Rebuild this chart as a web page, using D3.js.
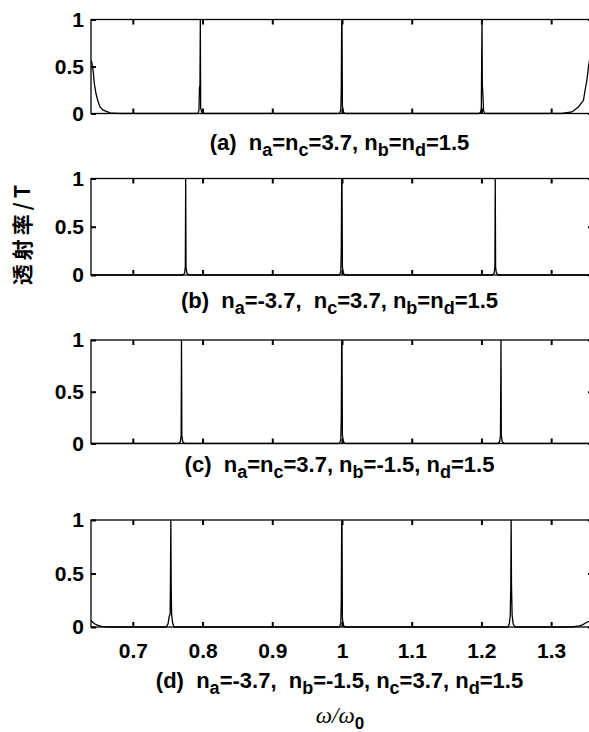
<!DOCTYPE html>
<html>
<head>
<meta charset="utf-8">
<script src="https://cdn.jsdelivr.net/npm/d3@7"></script>
<style>
  body { margin: 0; background: #fff; }
  text { font-family: "Liberation Sans", Arial, sans-serif; font-weight: bold; fill: #000; }
  .tick line { stroke: #000; stroke-width: 2; }
  .domain { display: none; }
</style>
</head>
<body>
<div id="chart"></div>
<script>
const svgWidth = 589
const svgHeight = 732

// axis ticks
const xTicks = [0.7, 0.8, 0.9, 1.0, 1.1, 1.2, 1.3]
const xTickLabels = ["0.7", "0.8", "0.9", "1", "1.1", "1.2", "1.3"]
const yTicks = [0, 0.5, 1]
const yTickLabels = ["0", "0.5", "1"]

// panel captions, "_x" = subscript x
const captions = [
  "(a)  n_a=n_c=3.7, n_b=n_d=1.5",
  "(b)  n_a=-3.7,  n_c=3.7, n_b=n_d=1.5",
  "(c)  n_a=n_c=3.7, n_b=-1.5, n_d=1.5",
  "(d)  n_a=-3.7,  n_b=-1.5, n_c=3.7, n_d=1.5"
]

// transmission curves [omega/omega0, T]
const curveA = [
  [0.640, 0.56], [0.641, 0.55], [0.6433, 0.44], [0.6447, 0.32], [0.6472, 0.21], [0.6496, 0.14],
  [0.6529, 0.07], [0.6576, 0.035], [0.6673, 0.007], [0.680, 0],
  [0.793, 0], [0.7948, 0.03], [0.7956, 0.28], [0.7963, 0.30], [0.7968, 1.0], [0.7973, 0.06], [0.7985, 0.02], [0.800, 0],
  [0.996, 0], [0.9982, 0.03], [0.9990, 0.25], [0.9995, 0.95], [1.0000, 1.0], [1.0006, 0.08], [1.0018, 0.02], [1.004, 0],
  [1.197, 0], [1.1990, 0.02], [1.1998, 0.06], [1.2008, 1.0], [1.2013, 0.30], [1.2018, 0.25], [1.2030, 0.03], [1.205, 0],
  [1.315, 0], [1.3297, 0.017], [1.3391, 0.07], [1.3463, 0.14], [1.3487, 0.25], [1.3512, 0.35], [1.3535, 0.50],
  [1.356, 0.60], [1.360, 0.68]
]

const curveB = [
  [0.640, 0], [0.772, 0], [0.7742, 0.02], [0.7753, 0.08], [0.7758, 1.0], [0.7763, 0.08], [0.7775, 0.02], [0.780, 0],
  [0.996, 0], [0.9982, 0.03], [0.9990, 0.25], [0.9995, 0.95], [1.0000, 1.0], [1.0006, 0.08], [1.0018, 0.02], [1.004, 0],
  [1.216, 0], [1.2182, 0.02], [1.2193, 0.08], [1.2198, 1.0], [1.2203, 0.08], [1.2215, 0.02], [1.224, 0],
  [1.360, 0]
]

const curveC = [
  [0.640, 0], [0.766, 0], [0.7682, 0.02], [0.7693, 0.08], [0.7698, 1.0], [0.7703, 0.08], [0.7715, 0.02], [0.774, 0],
  [0.996, 0], [0.9982, 0.03], [0.9990, 0.25], [0.9995, 0.95], [1.0000, 1.0], [1.0006, 0.08], [1.0018, 0.02], [1.004, 0],
  [1.224, 0], [1.2262, 0.02], [1.2273, 0.08], [1.2280, 1.0], [1.2285, 0.08], [1.2297, 0.02], [1.232, 0],
  [1.360, 0]
]

const curveD = [
  [0.640, 0.06], [0.6425, 0.045], [0.645, 0.03], [0.650, 0.015], [0.655, 0.005], [0.665, 0],
  [0.748, 0], [0.7505, 0.03], [0.7522, 0.10], [0.7535, 0.12], [0.7539, 0.39], [0.7545, 1.0],
  [0.7550, 0.39], [0.7556, 0.12], [0.7570, 0.04], [0.759, 0],
  [0.996, 0], [0.9982, 0.03], [0.9990, 0.25], [0.9995, 0.95], [1.0000, 1.0], [1.0006, 0.08], [1.0018, 0.02], [1.004, 0],
  [1.238, 0], [1.2400, 0.03], [1.2413, 0.11], [1.2421, 0.39], [1.2426, 1.0], [1.2431, 0.39], [1.2440, 0.11],
  [1.2455, 0.03], [1.248, 0],
  [1.330, 0], [1.340, 0.01], [1.345, 0.02], [1.350, 0.04], [1.3535, 0.05], [1.360, 0.07]
]

const curves = [curveA, curveB, curveC, curveD]

// layout
const plotLeft = 91
const plotRight = 593
const panelTop = [19.5, 178.5, 340, 520]
const panelBottom = [113.5, 275, 443.5, 627]
const captionY = [150, 308, 472, 688]

let svg = d3.select("#chart")
  .append("svg")
  .attr("width", svgWidth)
  .attr("height", svgHeight)

let x = d3.scaleLinear()
  .domain([0.64, 1.36])
  .range([plotLeft, plotRight])

curves.forEach((curve, i) => {
  let y = d3.scaleLinear()
    .domain([0, 1])
    .range([panelBottom[i], panelTop[i]])

  let g = svg.append("g")

  g.append("clipPath")
    .attr("id", `clip${i}`)
    .append("rect")
    .attr("x", plotLeft)
    .attr("y", panelTop[i] - 1)
    .attr("width", plotRight - plotLeft)
    .attr("height", panelBottom[i] - panelTop[i] + 2)

  let line = d3.line()
    .x(d => x(d[0]))
    .y(d => y(d[1]))

  g.append("path")
    .datum(curve)
    .attr("clip-path", `url(#clip${i})`)
    .attr("d", line)
    .attr("fill", "none")
    .attr("stroke", "#000")
    .attr("stroke-width", 1.3)

  // bottom ticks (labels only on last panel)
  let bottomAxis = d3.axisBottom(x)
    .tickValues(xTicks)
    .tickSizeInner(-5)
    .tickSizeOuter(0)
    .tickPadding(16)
    .tickFormat((d, k) => i === 3 ? xTickLabels[k] : "")
  g.append("g")
    .attr("transform", `translate(0, ${panelBottom[i]})`)
    .call(bottomAxis)

  g.append("g")
    .attr("transform", `translate(0, ${panelTop[i]})`)
    .call(d3.axisTop(x).tickValues(xTicks).tickSizeInner(-5).tickSizeOuter(0).tickFormat(""))

  let leftAxis = d3.axisLeft(y)
    .tickValues(yTicks)
    .tickSizeInner(-5)
    .tickSizeOuter(0)
    .tickPadding(7)
    .tickFormat((d, k) => yTickLabels[k])
  g.append("g")
    .attr("transform", `translate(${plotLeft}, 0)`)
    .call(leftAxis)

  g.append("g")
    .attr("transform", `translate(${plotRight}, 0)`)
    .call(d3.axisRight(y).tickValues(yTicks).tickSizeInner(-5).tickSizeOuter(0).tickFormat(""))

  g.selectAll(".tick text")
    .attr("font-size", 21)
    .style("font-family", '"Liberation Sans", Arial, sans-serif')
    .style("font-weight", "bold")

  // frame
  g.append("rect")
    .attr("x", plotLeft)
    .attr("y", panelTop[i])
    .attr("width", plotRight - plotLeft)
    .attr("height", panelBottom[i] - panelTop[i])
    .attr("fill", "none")
    .attr("stroke", "#000")
    .attr("stroke-width", 1.3)

  // caption with subscripts
  let cap = g.append("text")
    .attr("x", (plotLeft + 588) / 2)
    .attr("y", captionY[i])
    .attr("text-anchor", "middle")
    .attr("font-size", 22)
    .style("white-space", "pre")

  let shift = 0
  captions[i].split(/(_\w)/).forEach(part => {
    if (!part.length) return
    if (part.startsWith("_")) {
      cap.append("tspan").attr("dy", 6 - shift).attr("font-size", 18).text(part.slice(1))
      shift = 6
    } else {
      cap.append("tspan").attr("dy", -shift).text(part)
      shift = 0
    }
  })
})

// y label
svg.append("text")
  .attr("transform", "translate(30, 233) rotate(-90)")
  .attr("text-anchor", "middle")
  .attr("font-size", 21)
  .attr("letter-spacing", 4)
  .style("font-family", '"Noto Sans CJK SC", "Liberation Sans", sans-serif')
  .text("透射率/T")

// x label
let xl = svg.append("text")
  .attr("x", 340)
  .attr("y", 723)
  .attr("text-anchor", "middle")
  .attr("font-size", 23)
xl.append("tspan")
  .style("font-family", '"Liberation Serif", serif')
  .style("font-style", "italic")
  .style("font-weight", "normal")
  .text("ω/ω")
xl.append("tspan")
  .attr("dy", 6)
  .attr("font-size", 17)
  .text("0")
</script>
</body>
</html>
